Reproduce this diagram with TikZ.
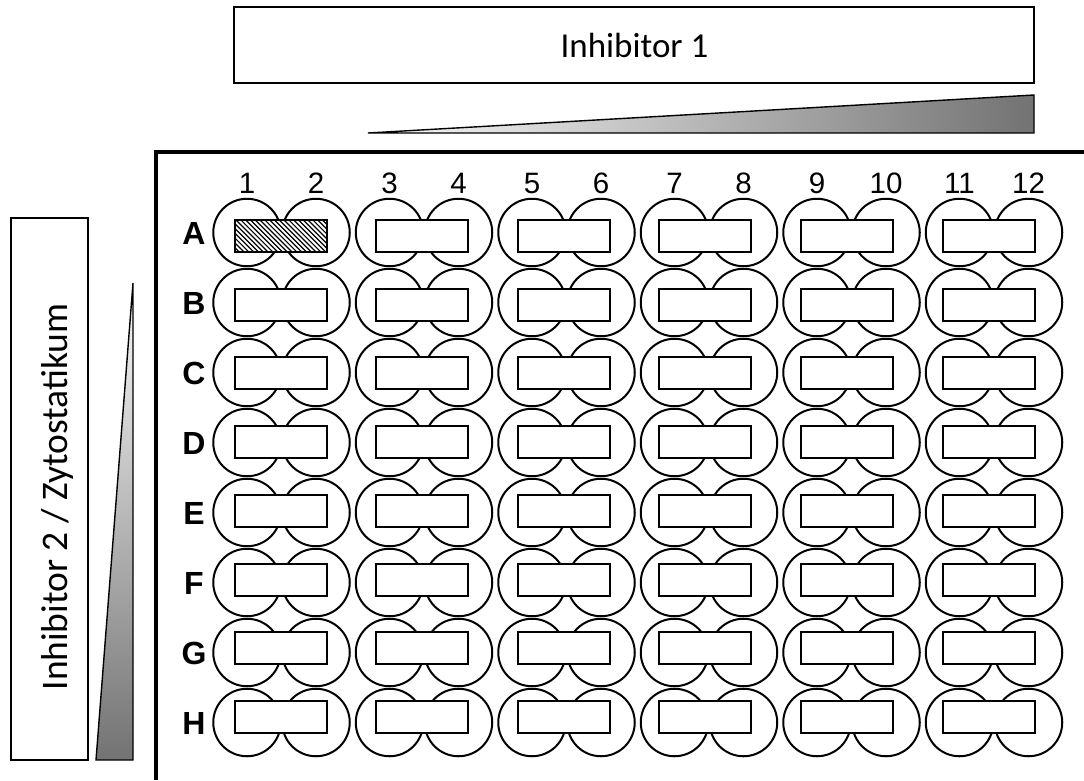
\documentclass[tikz,border=0pt]{standalone}
\usepackage{fontspec}
\setmainfont{Liberation Sans}
\newfontfamily\calib{Carlito}
\begin{document}
\begin{tikzpicture}[x=1pt,y=-1pt,
  well/.style={draw, circle, line width=2pt, minimum size=67.5pt, inner sep=0pt, outer sep=0pt},
  slot/.style={draw, rectangle, fill=white, line width=2pt, minimum width=92pt, minimum height=32pt, inner sep=0pt, outer sep=0pt},
  collab/.style={anchor=base, inner sep=0pt, font=\fontsize{29.5}{32}\selectfont},
  rowlab/.style={anchor=base, inner sep=0pt, font=\bfseries\fontsize{32}{36}\selectfont},
  labelbox/.style={draw, line width=1.3pt, inner sep=0pt, outer sep=0pt},
  bigtext/.style={anchor=base, inner sep=0pt, font=\calib\fontsize{35}{40}\selectfont},
  wedge/.style={line width=1.4pt, line join=miter},
  plate/.style={line width=4pt, line join=miter}
]
\useasboundingbox (0,0) rectangle (1084,780);

% top label box
\node[labelbox, minimum width=800pt, minimum height=76pt] (box1) at (634,45) {};
\node[bigtext] (inh1) at (634.5,57) {Inhibitor 1};

% left label box
\node[labelbox, minimum width=77pt, minimum height=542pt] (box2) at (49.5,489) {};
\node[bigtext, rotate=90, font=\calib\fontsize{37.5}{42}\selectfont] (inh2) at (67,497) {Inhibitor 2 / Zytostatikum};

% gradient wedges
\coordinate (t1) at (368,133);
\coordinate (t2) at (1034,95);
\coordinate (t3) at (1034,133);
\shade[left color=black!2, right color=black!55] (t1) -- (t2) -- (t3) -- cycle;
\draw[wedge] (t1) -- (t2) -- (t3) -- cycle;

\coordinate (l1) at (133,283);
\coordinate (l2) at (133,760);
\coordinate (l3) at (96,760);
\shade[top color=black!2, bottom color=black!55] (l1) -- (l2) -- (l3) -- cycle;
\draw[wedge] (l1) -- (l2) -- (l3) -- cycle;

% plate border
\coordinate (p1) at (155.5,780);
\coordinate (p2) at (155.5,151.5);
\coordinate (p3) at (1084,151.5);
\draw[plate] (p1) -- (p2) -- (p3);

% column labels
\foreach \c in {1,...,12} {
  \pgfmathsetmacro\cx{281.5+142.5*int((\c-1)/2)+(mod(\c-1,2)==0 ? -34.5 : 34.5)}
  \node[collab] (col\c) at (\cx,193) {\c};
}

% wells
\foreach \r [count=\j from 0] in {A,...,H} {
  \pgfmathsetmacro\cy{232.5+70*\j}
  \pgfmathsetmacro\ry{236+68.7*\j}
  \node[rowlab] (row\r) at (194,\cy+11.5) {\r};
  \foreach \p in {0,...,5} {
    \pgfmathsetmacro\cx{281.5+142.5*\p}
    \pgfmathsetmacro\rx{280.5+141.6*\p}
    \pgfmathtruncatemacro\ca{2*\p+1}
    \pgfmathtruncatemacro\cb{2*\p+2}
    \node[well] (w\r\ca) at (\cx-34.5,\cy) {};
    \node[well] (w\r\cb) at (\cx+34.5,\cy) {};
    \node[slot] (s\r\p) at (\rx,\ry) {};
  }
}

% hatched slot A1/A2
\begin{scope}
  \clip (sA0.south west) rectangle (sA0.north east);
  \foreach \k in {0,...,26} {
    \draw[line width=1.2pt] (234.5-32+4.8*\k,220) -- ++(32,32);
  }
\end{scope}
\draw[line width=2pt] (sA0.south west) rectangle (sA0.north east);
\end{tikzpicture}
\end{document}
